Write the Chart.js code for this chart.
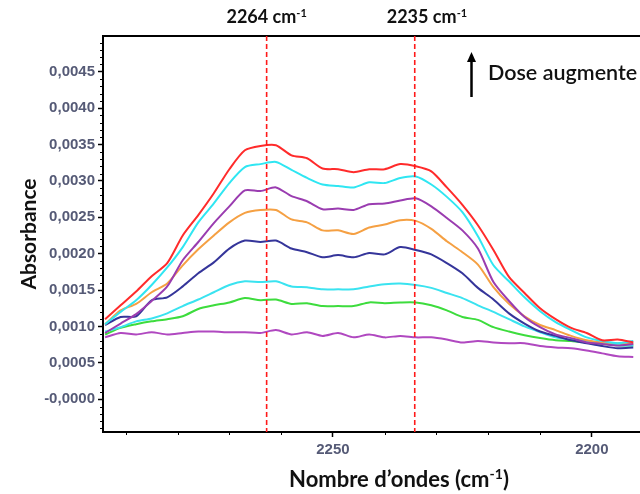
<!DOCTYPE html>
<html>
<head>
<meta charset="utf-8">
<script src="https://cdn.jsdelivr.net/npm/chart.js@4"></script>
<style>
  html, body { margin: 0; padding: 0; background: #fff; }
</style>
</head>
<body>
<canvas id="myChart" width="640" height="494"></canvas>
<script>
// wavenumbers (cm-1), read every 3 cm-1
const wavenumbers = [2294, 2291, 2288, 2285, 2282, 2279, 2276, 2273, 2270, 2267, 2264, 2261,
  2258, 2255, 2252, 2249, 2246, 2243, 2240, 2237, 2234, 2231, 2228, 2225, 2222, 2219, 2216,
  2213, 2210, 2207, 2204, 2201, 2198, 2195, 2192];

// absorbance, from the highest dose (top) to the lowest
const red = [0.00110, 0.00129, 0.00148, 0.00169, 0.00187, 0.00225, 0.00253, 0.00283, 0.00316, 0.00342, 0.00348, 0.00349,
  0.00335, 0.00331, 0.00317, 0.00316, 0.00312, 0.00316, 0.00316, 0.00323, 0.00320, 0.00313, 0.00291, 0.00267, 0.00239, 0.00205, 0.00168,
  0.00146, 0.00125, 0.00110, 0.00098, 0.00091, 0.00081, 0.00082, 0.00078];
const cyan1 = [0.00103, 0.00120, 0.00136, 0.00157, 0.00181, 0.00209, 0.00243, 0.00269, 0.00297, 0.00319, 0.00323, 0.00326,
  0.00315, 0.00304, 0.00295, 0.00293, 0.00291, 0.00298, 0.00297, 0.00304, 0.00306, 0.00295, 0.00278, 0.00257, 0.00224, 0.00184, 0.00162,
  0.00140, 0.00121, 0.00106, 0.00095, 0.00085, 0.00080, 0.00077, 0.00080];
const purple = [0.00091, 0.00104, 0.00117, 0.00135, 0.00155, 0.00191, 0.00216, 0.00242, 0.00265, 0.00287, 0.00286, 0.00291,
  0.00279, 0.00272, 0.00261, 0.00262, 0.00260, 0.00268, 0.00269, 0.00273, 0.00276, 0.00265, 0.00249, 0.00232, 0.00207, 0.00161, 0.00135,
  0.00113, 0.00099, 0.00089, 0.00084, 0.00078, 0.00076, 0.00074, 0.00076];
const orange = [0.00103, 0.00122, 0.00131, 0.00147, 0.00159, 0.00184, 0.00206, 0.00225, 0.00243, 0.00256, 0.00260, 0.00260,
  0.00247, 0.00243, 0.00232, 0.00232, 0.00227, 0.00236, 0.00240, 0.00246, 0.00245, 0.00234, 0.00217, 0.00202, 0.00185, 0.00154, 0.00131,
  0.00114, 0.00102, 0.00095, 0.00087, 0.00081, 0.00078, 0.00077, 0.00077];
const navy = [0.00102, 0.00113, 0.00114, 0.00136, 0.00140, 0.00155, 0.00173, 0.00188, 0.00207, 0.00218, 0.00216, 0.00218,
  0.00207, 0.00202, 0.00195, 0.00198, 0.00195, 0.00201, 0.00199, 0.00209, 0.00205, 0.00199, 0.00187, 0.00173, 0.00153, 0.00137, 0.00118,
  0.00104, 0.00093, 0.00087, 0.00081, 0.00077, 0.00073, 0.00070, 0.00071];
const cyan2 = [0.00093, 0.00099, 0.00107, 0.00111, 0.00118, 0.00128, 0.00137, 0.00147, 0.00157, 0.00162, 0.00161, 0.00162,
  0.00155, 0.00154, 0.00151, 0.00151, 0.00151, 0.00155, 0.00158, 0.00159, 0.00157, 0.00153, 0.00146, 0.00139, 0.00129, 0.00120, 0.00110,
  0.00100, 0.00092, 0.00085, 0.00082, 0.00080, 0.00077, 0.00074, 0.00074];
const green = [0.00089, 0.00098, 0.00103, 0.00107, 0.00110, 0.00114, 0.00124, 0.00129, 0.00133, 0.00139, 0.00136, 0.00137,
  0.00131, 0.00132, 0.00128, 0.00128, 0.00128, 0.00133, 0.00132, 0.00133, 0.00133, 0.00129, 0.00122, 0.00113, 0.00109, 0.00099, 0.00093,
  0.00088, 0.00084, 0.00081, 0.00080, 0.00078, 0.00076, 0.00074, 0.00074];
const magenta = [0.00085, 0.00091, 0.00089, 0.00092, 0.00089, 0.00091, 0.00093, 0.00093, 0.00092, 0.00092, 0.00091, 0.00095,
  0.00089, 0.00092, 0.00087, 0.00091, 0.00085, 0.00089, 0.00085, 0.00087, 0.00085, 0.00085, 0.00082, 0.00078, 0.00080, 0.00078, 0.00077,
  0.00077, 0.00073, 0.00071, 0.00070, 0.00067, 0.00063, 0.00059, 0.00058];

const seriesList = [red, cyan1, purple, orange, navy, cyan2, green, magenta];
const seriesColors = ["#ff2b2b", "#2fe6f2", "#9a3cb0", "#f5a043", "#35359a", "#3ae3f0", "#3ddc3d", "#b048c0"];

// dashed markers: where they are drawn, and what they say
const markerLinesAt = [2262.8, 2234.2];
const markerLabels = ["2264 cm", "2235 cm"];

const tickColor = "#555a76";

function sup(ctx, parts, x, y, size, weight, align) {
  // parts: [[text, isSup], ...]
  const fam = "Lato, 'Liberation Sans', sans-serif";
  let total = 0;
  const widths = parts.map(([t, s]) => {
    ctx.font = `${weight} ${s ? Math.round(size * 0.62) : size}px ${fam}`;
    const w = ctx.measureText(t).width;
    total += w;
    return w;
  });
  let cx = align === "center" ? x - total / 2 : x;
  ctx.textAlign = "left";
  ctx.textBaseline = "alphabetic";
  parts.forEach(([t, s], i) => {
    ctx.font = `${weight} ${s ? Math.round(size * 0.62) : size}px ${fam}`;
    ctx.fillText(t, cx, s ? y - size * 0.36 : y);
    cx += widths[i];
  });
}

const extras = {
  id: "extras",
  afterDraw(chart) {
    const { ctx, chartArea: a, scales: { x, y } } = chart;
    ctx.save();
    ctx.strokeStyle = "#000";
    ctx.fillStyle = "#111";

    // top frame line
    ctx.lineWidth = 2;
    ctx.beginPath();
    ctx.moveTo(a.left - 1, a.top);
    ctx.lineTo(a.right, a.top);
    ctx.stroke();

    // minor ticks
    ctx.lineWidth = 1;
    for (let w = 2200; w <= 2290; w += 10) {
      if (w % 50 === 0) continue;
      const px = Math.round(x.getPixelForValue(w)) + 0.5;
      ctx.beginPath();
      ctx.moveTo(px, a.bottom);
      ctx.lineTo(px, a.bottom + 3);
      ctx.stroke();
    }
    for (let k = -4; k <= 49; k++) {
      if (k % 5 === 0) continue;
      const py = Math.round(y.getPixelForValue(k * 0.0001)) + 0.5;
      ctx.beginPath();
      ctx.moveTo(a.left - 3, py);
      ctx.lineTo(a.left, py);
      ctx.stroke();
    }

    // dashed markers
    ctx.strokeStyle = "#ff1a1a";
    ctx.lineWidth = 1.6;
    ctx.setLineDash([5, 3]);
    const px = markerLinesAt.map(v => x.getPixelForValue(v));
    px.forEach(p => {
      ctx.beginPath();
      ctx.moveTo(p, a.top);
      ctx.lineTo(p, a.bottom);
      ctx.stroke();
    });
    ctx.setLineDash([]);

    ctx.fillStyle = "#111";
    sup(ctx, [[markerLabels[0] , false], ["-1", true]], px[0], 23, 18, "bold", "center");
    sup(ctx, [[markerLabels[1], false], ["-1", true]], px[1] - 28, 23, 18, "bold", "left");

    // arrow + note
    ctx.strokeStyle = "#000";
    ctx.lineWidth = 2.5;
    ctx.beginPath();
    ctx.moveTo(471.5, 97);
    ctx.lineTo(471.5, 60);
    ctx.stroke();
    ctx.fillStyle = "#000";
    ctx.beginPath();
    ctx.moveTo(471.5, 52);
    ctx.lineTo(476, 62);
    ctx.lineTo(467, 62);
    ctx.closePath();
    ctx.fill();
    ctx.fillStyle = "#111";
    sup(ctx, [["Dose augmente", false]], 488, 79.5, 21.5, "600", "left");

    // x axis title
    sup(ctx, [["Nombre d\u2019ondes (cm", false], ["-1", true], [")", false]], 399, 487, 22, "bold", "center");
    ctx.restore();
  }
};

const datasets = seriesList.map((s, i) => ({
  data: wavenumbers.map((w, j) => ({ x: w, y: s[j] })),
  borderColor: seriesColors[i],
  backgroundColor: seriesColors[i],
  borderWidth: 2,
  pointRadius: 0,
  tension: 0.25,
  fill: false
}));

const config = {
  type: "line",
  data: { datasets: datasets },
  options: {
    responsive: false,
    animation: false,
    layout: { padding: { top: 36, right: 0, left: 0, bottom: 0 } },
    plugins: { legend: { display: false }, tooltip: { enabled: false } },
    scales: {
      x: {
        type: "linear",
        reverse: true,
        min: 2190.7,
        max: 2294.4,
        afterFit: s => { s.height = 62; },
        border: { color: "#000", width: 2 },
        grid: { drawOnChartArea: false, drawTicks: true, tickLength: 5, tickColor: "#000", tickWidth: 1.5 },
        ticks: {
          stepSize: 50,
          includeBounds: false,
          padding: 4,
          color: tickColor,
          font: { family: "'Liberation Sans', Arial, sans-serif", size: 15, weight: "bold" },
          callback: v => String(v)
        }
      },
      y: {
        min: -0.00045,
        max: 0.00499,
        afterFit: s => { s.width = 103; },
        border: { color: "#000", width: 2 },
        grid: { drawOnChartArea: false, drawTicks: true, tickLength: 5, tickColor: "#000", tickWidth: 1.5 },
        title: {
          display: true,
          text: "Absorbance",
          color: "#111",
          padding: { top: 17, bottom: 0 },
          font: { family: "Lato, 'Liberation Sans', sans-serif", size: 21, weight: "bold" }
        },
        ticks: {
          stepSize: 0.0005,
          includeBounds: false,
          padding: 3,
          color: tickColor,
          font: { family: "'Liberation Sans', Arial, sans-serif", size: 15, weight: "bold" },
          callback: v => (Math.abs(v) < 1e-9 ? "-0,0000" : v.toFixed(4).replace(".", ","))
        }
      }
    }
  },
  plugins: [extras]
};

const myChart = new Chart(document.getElementById("myChart"), config);
</script>
</body>
</html>
